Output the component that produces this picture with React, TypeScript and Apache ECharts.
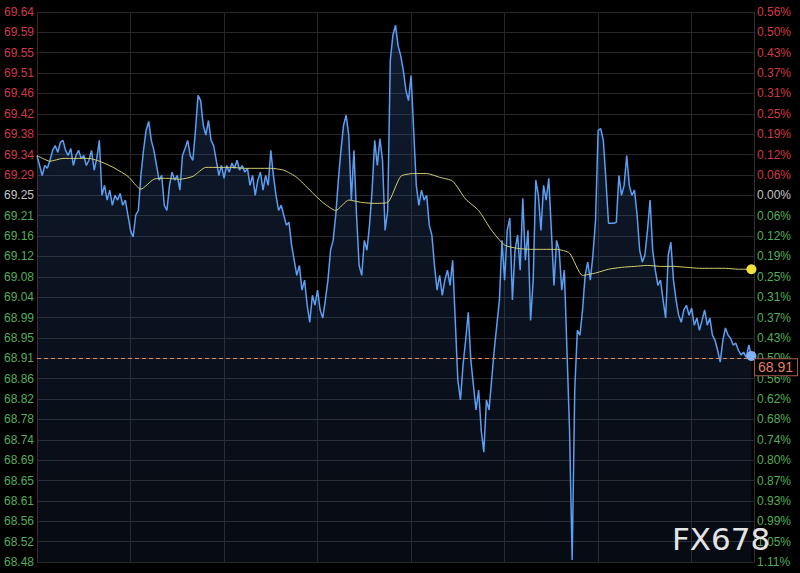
import { useEffect, useRef } from "react";
import * as echarts from "echarts";

// ---- axis / session constants ----
const STEP_MIN = 5; // minutes between price samples
const AVG_STEP_MIN = 25; // minutes between average samples
const SESSION_MIN = 1380; // 23h session
const GRID_STEP_MIN = 180;
const Y_MIN = 68.48;
const Y_MAX = 69.641;
const Y_STEP = 0.043;
const PREV_INDEX = 18; // tick index of previous close (69.25)
const LAST_PRICE = 68.91;

// tick labels, bottom to top
const priceLabels = [
  "68.48", "68.52", "68.56", "68.61", "68.65", "68.69", "68.74", "68.78", "68.82", "68.86",
  "68.91", "68.95", "68.99", "69.04", "69.08", "69.12", "69.16", "69.21", "69.25", "69.29",
  "69.34", "69.38", "69.42", "69.46", "69.51", "69.55", "69.59", "69.64",
];
const pctLabels = [
  "1.11%", "1.05%", "0.99%", "0.93%", "0.87%", "0.80%", "0.74%", "0.68%", "0.62%", "0.56%",
  "0.50%", "0.43%", "0.37%", "0.31%", "0.25%", "0.19%", "0.12%", "0.06%", "0.00%", "0.06%",
  "0.12%", "0.19%", "0.25%", "0.31%", "0.37%", "0.43%", "0.50%", "0.56%",
];

// price every 5 minutes
const prices = [
  69.338, 69.317, 69.296, 69.317, 69.311, 69.328, 69.349, 69.359, 69.345, 69.366,
  69.370, 69.349, 69.338, 69.353, 69.317, 69.338, 69.349, 69.332, 69.338, 69.317,
  69.328, 69.349, 69.307, 69.332, 69.370, 69.254, 69.275, 69.244, 69.265, 69.233,
  69.254, 69.244, 69.258, 69.233, 69.244, 69.212, 69.180, 69.166, 69.212, 69.222,
  69.296, 69.349, 69.391, 69.410, 69.370, 69.349, 69.317, 69.286, 69.296, 69.233,
  69.222, 69.275, 69.303, 69.286, 69.296, 69.265, 69.338, 69.353, 69.370, 69.338,
  69.328, 69.391, 69.465, 69.454, 69.402, 69.381, 69.412, 69.370, 69.359, 69.328,
  69.296, 69.317, 69.290, 69.317, 69.303, 69.322, 69.311, 69.328, 69.307, 69.317,
  69.303, 69.311, 69.275, 69.296, 69.254, 69.286, 69.303, 69.265, 69.296, 69.275,
  69.349, 69.296, 69.254, 69.222, 69.233, 69.212, 69.191, 69.197, 69.149, 69.117,
  69.085, 69.106, 69.054, 69.075, 69.022, 68.986, 69.043, 69.022, 69.054, 69.012,
  68.995, 69.033, 69.075, 69.138, 69.159, 69.212, 69.286, 69.349, 69.402, 69.423,
  69.381, 69.244, 69.349, 69.212, 69.106, 69.085, 69.159, 69.138, 69.191, 69.265,
  69.370, 69.317, 69.374, 69.328, 69.180, 69.222, 69.539, 69.592, 69.613, 69.570,
  69.549, 69.518, 69.476, 69.454, 69.507, 69.391, 69.275, 69.233, 69.265, 69.244,
  69.254, 69.191, 69.170, 69.106, 69.054, 69.085, 69.043, 69.075, 69.096, 69.064,
  69.117, 68.990, 68.864, 68.822, 68.896, 68.948, 69.007, 68.906, 68.853, 68.801,
  68.843, 68.758, 68.712, 68.822, 68.801, 68.864, 68.927, 68.980, 69.033, 69.159,
  69.075, 69.180, 69.206, 69.033, 69.138, 69.170, 69.096, 69.248, 69.117, 69.180,
  68.990, 69.075, 69.286, 69.254, 69.180, 69.275, 69.244, 69.290, 69.180, 69.064,
  69.159, 69.138, 69.054, 69.096, 68.927, 68.758, 68.484, 68.843, 68.969, 68.959,
  69.012, 69.085, 69.113, 69.075, 69.128, 69.201, 69.391, 69.395, 69.370, 69.286,
  69.195, 69.195, 69.195, 69.197, 69.296, 69.254, 69.275, 69.338, 69.275, 69.254,
  69.265, 69.212, 69.138, 69.113, 69.128, 69.180, 69.244, 69.138, 69.096, 69.064,
  69.075, 69.033, 68.995, 69.128, 69.155, 69.075, 69.033, 69.001, 68.986, 69.012,
  69.022, 69.001, 69.016, 68.980, 68.995, 68.969, 68.990, 69.012, 68.980, 68.995,
  68.959, 68.948, 68.927, 68.902, 68.948, 68.974, 68.959, 68.952, 68.938, 68.942,
  68.927, 68.917, 68.923, 68.912, 68.938, 68.915,
];

// average price every 25 minutes
const avgPrices = [
  69.338, 69.326, 69.332, 69.332, 69.332, 69.324, 69.311, 69.294, 69.267, 69.288,
  69.290, 69.288, 69.294, 69.313, 69.313, 69.313, 69.311, 69.311, 69.311, 69.307,
  69.292, 69.265, 69.239, 69.222, 69.244, 69.239, 69.237, 69.239, 69.294, 69.300,
  69.300, 69.292, 69.284, 69.246, 69.222, 69.180, 69.149, 69.142, 69.140, 69.140,
  69.140, 69.132, 69.085, 69.090, 69.098, 69.102, 69.104, 69.106, 69.104, 69.104,
  69.102, 69.100, 69.100, 69.100, 69.098, 69.098,
];

const FONT = "'Liberation Sans', Arial, sans-serif";
const RED = "#d03a48";
const GREEN = "#52ad5c";
const FLAT = "#c4c4c4";

function tickIndex(v: number) {
  return Math.round((v - Y_MIN) / Y_STEP);
}

function labelRich() {
  const base = { fontSize: 12, fontFamily: FONT };
  return {
    up: { ...base, color: RED },
    dn: { ...base, color: GREEN },
    flat: { ...base, color: FLAT },
  };
}

function makeFormatter(labels: string[]) {
  return (v: number) => {
    const i = tickIndex(v);
    const s = labels[i];
    if (s === undefined) return "";
    const k = i > PREV_INDEX ? "up" : i < PREV_INDEX ? "dn" : "flat";
    return `{${k}|${s}}`;
  };
}

export default function App() {
  const ref = useRef<HTMLDivElement>(null);

  useEffect(() => {
    document.body.style.margin = "0";
    document.body.style.background = "#000";
    if (!ref.current) return;
    const chart = echarts.init(ref.current, undefined, { renderer: "svg" });

    const priceData = prices.map((p, i) => [i * STEP_MIN, p]);
    const avgData = avgPrices.map((p, j) => [j * AVG_STEP_MIN, p]);
    const lastPrice = priceData[priceData.length - 1];
    const lastAvg = avgData[avgData.length - 1];

    chart.setOption({
      animation: false,
      backgroundColor: "#000",
      grid: {
        left: 37,
        right: 46,
        top: 12,
        bottom: 11,
        containLabel: false,
        outerBoundsMode: "none",
      },
      xAxis: {
        type: "value",
        min: 0,
        max: SESSION_MIN,
        interval: GRID_STEP_MIN,
        axisLine: { show: false },
        axisTick: { show: false },
        axisLabel: { show: false },
        splitLine: { show: true, lineStyle: { color: "#262626", width: 1 } },
      },
      yAxis: [
        {
          type: "value",
          position: "left",
          min: Y_MIN,
          max: Y_MAX,
          interval: Y_STEP,
          axisLine: { show: true, lineStyle: { color: "#4a1c20", width: 1 } },
          axisTick: { show: false },
          axisLabel: {
            margin: 3,
            formatter: makeFormatter(priceLabels),
            rich: labelRich(),
          },
          splitLine: { show: true, lineStyle: { color: "#282828", width: 1 } },
        },
        {
          type: "value",
          position: "right",
          min: Y_MIN,
          max: Y_MAX,
          interval: Y_STEP,
          axisLine: { show: true, lineStyle: { color: "#303030", width: 1 } },
          axisTick: { show: false },
          axisLabel: {
            margin: 3,
            formatter: makeFormatter(pctLabels),
            rich: labelRich(),
          },
          splitLine: { show: false },
        },
      ],
      series: [
        {
          name: "price",
          type: "line",
          data: priceData,
          showSymbol: false,
          symbol: "none",
          lineStyle: { color: "#5b9ef2", width: 1.5 },
          areaStyle: {
            color: new echarts.graphic.LinearGradient(0, 0, 0, 1, [
              { offset: 0, color: "rgba(55,95,165,0.42)" },
              { offset: 1, color: "rgba(45,70,120,0.22)" },
            ]),
          },
          z: 3,
          markLine: {
            silent: true,
            symbol: "none",
            data: [{ yAxis: LAST_PRICE }],
            lineStyle: { color: "#d98b5c", type: [4, 3], width: 1 },
            label: {
              show: true,
              position: "end",
              distance: 1,
              offset: [0, 9],
              formatter: LAST_PRICE.toFixed(2),
              color: "#e4806c",
              fontSize: 14,
              fontFamily: FONT,
              backgroundColor: "#000",
              borderColor: "#a85a4c",
              borderWidth: 1,
              padding: [1, 4, 1, 3],
            },
          },
          markPoint: {
            silent: true,
            symbol: "circle",
            symbolSize: 10,
            itemStyle: { color: "#7fb2f5" },
            label: { show: false },
            data: [{ coord: lastPrice }],
          },
        },
        {
          name: "avg",
          type: "line",
          data: avgData,
          showSymbol: false,
          symbol: "none",
          smooth: 0.2,
          lineStyle: { color: "#d2d070", width: 1 },
          z: 4,
          markPoint: {
            silent: true,
            symbol: "circle",
            symbolSize: 10,
            itemStyle: { color: "#f2e23c" },
            label: { show: false },
            data: [{ coord: lastAvg }],
          },
        },
      ],
      graphic: [
        {
          type: "text",
          left: 672,
          top: 523,
          z: 100,
          style: {
            text: "FX678",
            fontSize: 31,
            fontFamily: "'DejaVu Sans', sans-serif",
            fill: "#e4e4e4",
          },
        },
      ],
    });

    return () => chart.dispose();
  }, []);

  return <div ref={ref} style={{ width: 800, height: 573 }} />;
}
